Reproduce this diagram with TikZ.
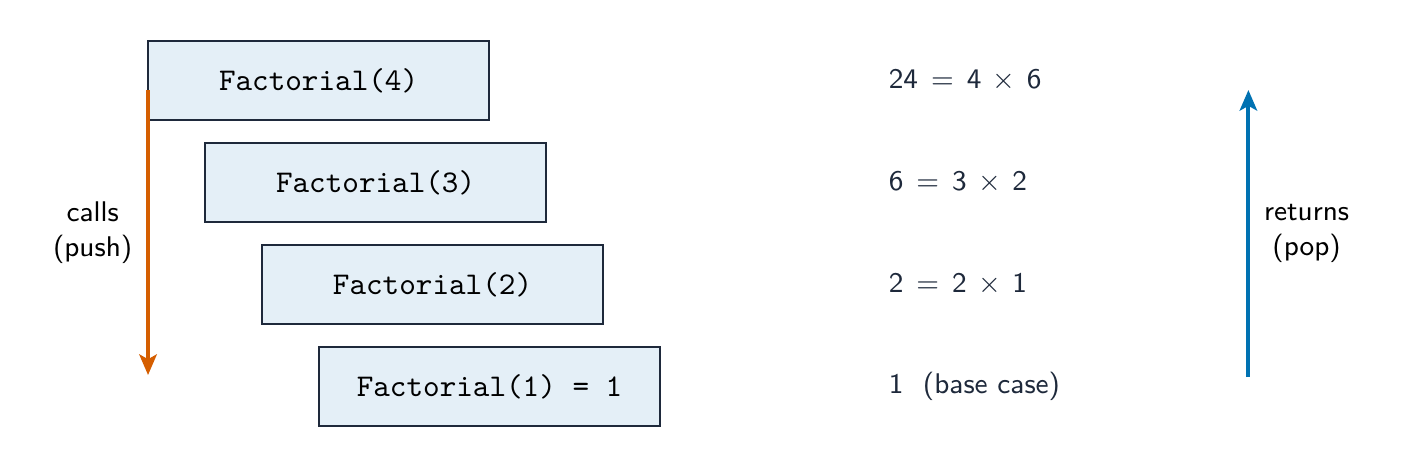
\documentclass[tikz,border=0pt]{standalone}
\definecolor{FrameFill}{HTML}{E4EFF7}
\definecolor{FrameLine}{HTML}{1E293B}
\definecolor{CallOrange}{HTML}{D55E00}
\definecolor{ReturnBlue}{HTML}{0072B2}
\definecolor{NoteText}{HTML}{1E293B}
\usetikzlibrary{arrows.meta}

\begin{document}
\begin{tikzpicture}[
  frame/.style={draw=FrameLine, line width=0.8pt, fill=FrameFill, minimum width=3.79cm, minimum height=0.88cm, font=\ttfamily},
  note/.style={anchor=west, inner sep=0pt, font=\sffamily\small, text=NoteText},
  flow/.style={-{Stealth[length=6.5pt, width=5.5pt, inset=1.5pt]}, line width=1.3pt},
  side/.style={font=\sffamily\small, align=center, text=black}]
\useasboundingbox (0,0) rectangle (15.61,5.204);

% stack frames
\node[frame] (f4) at (3.542,4.309) {Factorial(4)};
\node[frame] (f3) at (4.176,3.175) {Factorial(3)};
\node[frame] (f2) at (4.809,2.041) {Factorial(2)};
\node[frame] (f1) at (5.443,0.906) {Factorial(1) = 1};

% results
\node[note] (r4) at (9.875,0 |- f4) {$\mathsf{24} \,=\, \mathsf{4} \,\times\, \mathsf{6}$};
\node[note] (r3) at (9.875,0 |- f3) {$\mathsf{6} \,=\, \mathsf{3} \,\times\, \mathsf{2}$};
\node[note] (r2) at (9.875,0 |- f2) {$\mathsf{2} \,=\, \mathsf{2} \,\times\, \mathsf{1}$};
\node[note] (r1) at (9.875,0 |- f1) {1\ \ (base case)};

% calls
\coordinate (pushtop) at (1.646,4.203);
\coordinate (pushbot) at (1.646,1.034);
\draw[flow, CallOrange] (pushtop) -- (pushbot) node[side, midway, left=1pt] {calls\\(push)};

% returns
\coordinate (popbot) at (13.88,1.012);
\coordinate (poptop) at (13.88,4.203);
\draw[flow, ReturnBlue] (popbot) -- (poptop) node[side, midway, right=1pt] {returns\\(pop)};
\end{tikzpicture}
\end{document}
